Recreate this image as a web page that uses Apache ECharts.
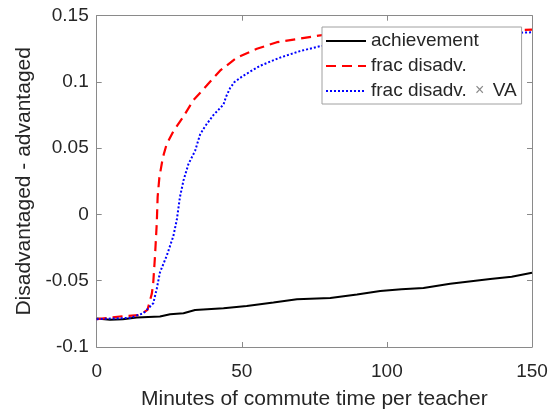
<!DOCTYPE html>
<html><head><meta charset="utf-8">
<script src="https://cdn.jsdelivr.net/npm/echarts@6/dist/echarts.min.js"></script>
<style>html,body{margin:0;padding:0;background:#fff}#c{width:553px;height:415px}</style>
</head><body><div id="c"></div>
<script>
// Series names
const seriesNames = ['achievement', 'frac disadv.', 'frac disadv. × VA'];

// achievement (black solid)
const achMin = [0, 4.6, 9, 13.8, 21.8, 25.3, 29.9, 33.9, 43.7, 51.7, 60.9, 69, 80.5, 89.7, 97.7, 105, 112.6, 121.8, 135.6, 143, 150];
const achVal = [-0.0785, -0.0795, -0.079, -0.0778, -0.077, -0.0753, -0.0745, -0.0721, -0.0708, -0.0691, -0.0664, -0.0639, -0.063, -0.0604, -0.0578, -0.0565, -0.0555, -0.0523, -0.0486, -0.047, -0.044];

// frac disadv. (red dashed)
const fracMin = [0, 8, 14.9, 17.5, 19.0, 19.5, 20.1, 20.7, 21.0, 21.6, 22.8, 24.1, 26.4, 29.9, 33.3, 37.9, 42.5, 48.3, 55.2, 62.1, 70.1, 76.4, 80, 90, 120, 150];
const fracVal = [-0.079, -0.077, -0.0758, -0.072, -0.0597, -0.051, -0.031, -0.0066, 0.0133, 0.028, 0.043, 0.053, 0.0627, 0.0739, 0.0862, 0.0973, 0.1085, 0.1184, 0.125, 0.130, 0.1327, 0.135, 0.136, 0.137, 0.138, 0.1395];

// frac disadv. x VA (blue dotted)
const vaMin = [0, 11.5, 16.1, 19.5, 20.7, 21.8, 24.1, 26.4, 27.6, 28.7, 29.9, 31.6, 33.9, 35.6, 37.3, 40.2, 43.7, 44.5, 46.0, 47.5, 50.5, 56.3, 63.2, 70.1, 77, 90, 120, 150];
const vaVal = [-0.079, -0.078, -0.0745, -0.067, -0.056, -0.0437, -0.0313, -0.0164, -0.004, 0.0133, 0.0256, 0.038, 0.048, 0.0602, 0.0664, 0.075, 0.083, 0.0885, 0.0955, 0.1, 0.1047, 0.1122, 0.1184, 0.1233, 0.127, 0.131, 0.135, 0.1375];

// Axis ticks
const xTicks = [0, 50, 100, 150];
const yTicks = [-0.1, -0.05, 0, 0.05, 0.1, 0.15];

const zip = (a, b) => a.map((v, i) => [v, b[i]]);
const FONT = "'Liberation Sans', Arial, sans-serif";
const TXT = '#262626';
const FRAME = '#8a8a8a';

const chart = echarts.init(document.getElementById('c'), null, {renderer: 'canvas'});

const baseX = {
  type: 'value', min: xTicks[0], max: xTicks[xTicks.length - 1], interval: 50,
  splitLine: {show: false},
  axisLine: {show: true, onZero: false, lineStyle: {color: FRAME, width: 1}},
  axisTick: {show: true, inside: true, length: 5, lineStyle: {color: FRAME}}
};
const baseY = {
  type: 'value', min: yTicks[0], max: yTicks[yTicks.length - 1], interval: 0.05,
  splitLine: {show: false},
  axisLine: {show: true, onZero: false, lineStyle: {color: FRAME, width: 1}},
  axisTick: {show: true, inside: true, length: 5, lineStyle: {color: FRAME}}
};

chart.setOption({
  animation: false,
  backgroundColor: '#fff',
  grid: {left: 96.7, right: 21, top: 15.7, bottom: 62.3, containLabel: false},
  xAxis: [
    Object.assign({}, baseX, {
      position: 'bottom',
      name: 'Minutes of commute time per teacher',
      nameLocation: 'middle', nameGap: 42,
      nameTextStyle: {fontFamily: FONT, fontSize: 21, color: TXT},
      axisLabel: {show: true, margin: 15, fontFamily: FONT, fontSize: 19, color: TXT}
    }),
    Object.assign({}, baseX, {position: 'top', axisLabel: {show: false}})
  ],
  yAxis: [
    Object.assign({}, baseY, {
      position: 'left',
      name: 'Disadvantaged - advantaged',
      nameLocation: 'middle', nameGap: 60,
      nameTextStyle: {fontFamily: FONT, fontSize: 21, color: TXT},
      axisLabel: {show: true, margin: 8, fontFamily: FONT, fontSize: 19, color: TXT,
        formatter: v => String(parseFloat(v.toFixed(2)))}
    }),
    Object.assign({}, baseY, {position: 'right', axisLabel: {show: false}})
  ],
  legend: {
    orient: 'vertical', left: 322, top: 27, z: 20,
    padding: [4, 5, 3, 3],
    itemWidth: 40, itemHeight: 14, itemGap: 5,
    itemStyle: {opacity: 0, borderWidth: 0},
    backgroundColor: '#fff', borderColor: '#a0a0a0', borderWidth: 1, borderRadius: 0,
    textStyle: {fontFamily: FONT, fontSize: 19, lineHeight: 20, color: TXT,
      rich: {t: {fontFamily: FONT, fontSize: 16, color: '#8a8a8a', padding: [0, 3, 0, 3]}}},
    formatter: n => n.replace(' × ', ' {t|×} '),
    data: seriesNames
  },
  series: [
    {name: seriesNames[0], type: 'line', data: zip(achMin, achVal), symbol: 'none', showSymbol: false,
      lineStyle: {color: '#000', width: 2}, itemStyle: {color: '#000'}, z: 2},
    {name: seriesNames[1], type: 'line', data: zip(fracMin, fracVal), symbol: 'none', showSymbol: false,
      lineStyle: {color: '#ff0000', width: 2.2, type: [10, 6]}, itemStyle: {color: '#ff0000'}, z: 3},
    {name: seriesNames[2], type: 'line', data: zip(vaMin, vaVal), symbol: 'none', showSymbol: false,
      lineStyle: {color: '#0000ff', width: 2, type: [2, 2]}, itemStyle: {color: '#0000ff'}, z: 3}
  ]
});
</script>
</body></html>
